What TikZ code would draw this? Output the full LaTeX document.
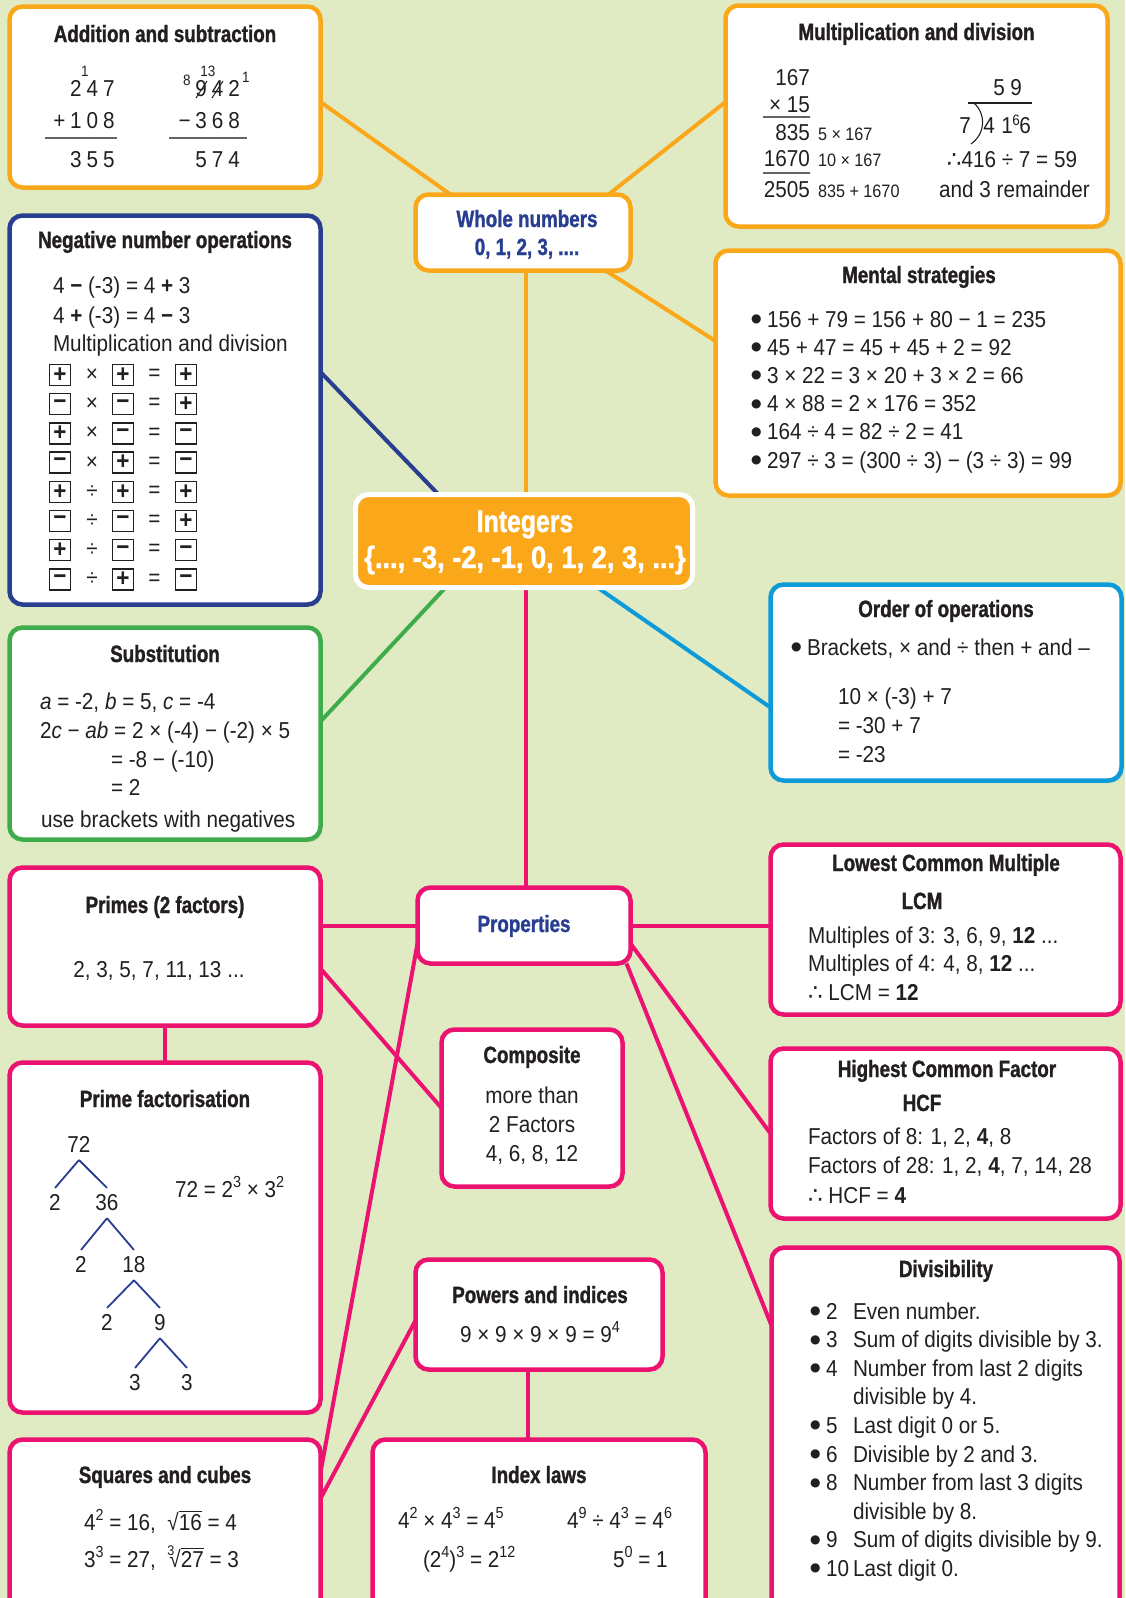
\documentclass[tikz,border=0pt]{standalone}
\usepackage{fontspec}
\usepackage{graphicx}
\setmainfont{Liberation Sans}[FakeStretch=0.9]
\newfontfamily\hfont{Liberation Sans}[FakeStretch=0.8,BoldFeatures={FakeBold=1.2}]
\newfontfamily\dvsfont{DejaVu Sans}
\usetikzlibrary{shadows,calc}
\definecolor{bgc}{RGB}{225,235,195}
\definecolor{cor}{RGB}{250,168,26}
\definecolor{cnv}{RGB}{40,62,145}
\definecolor{cgr}{RGB}{62,172,74}
\definecolor{cbl}{RGB}{12,155,216}
\definecolor{cmg}{RGB}{236,18,112}
\definecolor{txt}{RGB}{35,31,32}
\newcommand\hdf{\hfont\bfseries\fontsize{23.5}{27}\selectfont}
\newcommand\bdf{\normalfont\fontsize{23}{28.6}\selectfont}
\newcommand\smf{\normalfont\fontsize{18}{20}\selectfont}
\newcommand\spp[1]{\raisebox{0.4em}{\fontsize{16}{16}\selectfont #1}}
\newcommand\thf{{\dvsfont ∴}}
\newcommand\dg[1]{\makebox[16.5pt]{#1}}
\newcommand\vinc[1]{\vbox{\hrule height 1.1pt\kern 1.6pt\hbox{#1}}}
\newcommand\bdot{\raisebox{4.5pt}{\dvsfont\fontsize{12}{12}\selectfont ●}}
\newcommand\bul{\makebox[16pt][l]{\bdot}}
\newcommand\dvi[1]{\makebox[16pt][l]{\bdot}\makebox[27pt][l]{#1}}
\newcommand\supf{\fontsize{15}{15}\selectfont}
\pgfdeclarelayer{back}\pgfdeclarelayer{lines}\pgfsetlayers{back,lines,main}
\begin{document}
\begin{tikzpicture}[x=1pt,y=-1pt,
 every node/.style={inner sep=0pt,outer sep=0pt,text=txt,font=\bdf},
 box/.style={draw=#1,fill=white,line width=4.5pt,rounded corners=13pt,
   drop shadow={shadow xshift=2pt,shadow yshift=-2.5pt,opacity=0.22}},
 con/.style={draw=#1,line width=4pt},
 hd/.style={font=\hdf,anchor=base},
 tl/.style={anchor=base west},
 tc/.style={anchor=base},
 tr/.style={anchor=base east},
 sgn/.style={draw=txt,line width=1.3pt,minimum size=21pt,font=\normalfont\bfseries\fontsize{25}{25}\selectfont},
 tree/.style={draw=cnv,line width=1.8pt},
 rl/.style={draw=txt!70,line width=1.1pt}]
\useasboundingbox (0,0) rectangle (1125,1598);
\begin{pgfonlayer}{back}\fill[bgc] (0,0) rectangle (1125,1598);\end{pgfonlayer}
% boxes
\node[box=cor,minimum width=311pt,minimum height=181pt] (add) at (165,97) {};
\node[box=cor,minimum width=382pt,minimum height=221pt] (mul) at (916.5,116) {};
\node[box=cor,minimum width=215pt,minimum height=76pt] (wn) at (523,232.5) {};
\node[box=cnv,minimum width=311pt,minimum height=389pt] (neg) at (165,410) {};
\node[box=cor,minimum width=405pt,minimum height=245pt] (ment) at (918,373) {};
\node[box=white,fill=cor,line width=5pt,minimum width=337pt,minimum height=93pt] (int) at (524,541) {};
\node[box=cgr,minimum width=311pt,minimum height=212pt] (sub) at (165,733.5) {};
\node[box=cbl,minimum width=351pt,minimum height=196pt] (ord) at (946,682.5) {};
\node[box=cmg,minimum width=311pt,minimum height=158pt] (primes) at (165,946.5) {};
\node[box=cmg,minimum width=213pt,minimum height=76pt] (prop) at (524,925.5) {};
\node[box=cmg,minimum width=350pt,minimum height=170pt] (lcm) at (945.5,929.5) {};
\node[box=cmg,minimum width=350pt,minimum height=170pt] (hcf) at (945.5,1133.5) {};
\node[box=cmg,minimum width=311pt,minimum height=350pt] (pf) at (165,1237.5) {};
\node[box=cmg,minimum width=181pt,minimum height=157pt] (comp) at (532,1108) {};
\node[box=cmg,minimum width=247pt,minimum height=110pt] (pow) at (539,1314.5) {};
\node[box=cmg,minimum width=333pt,minimum height=178pt] (idx) at (539,1528.5) {};
\node[box=cmg,minimum width=311pt,minimum height=178pt] (sq) at (165,1528.5) {};
\node[box=cmg,minimum width=348pt,minimum height=370pt] (div) at (945.5,1432.5) {};
% connectors
\begin{pgfonlayer}{lines}
\draw[con=cor] ($(add.east)+(0,5)$) -- ($(wn.north west)+(35,0)$);
\draw[con=cor] ($(wn.north east)+(-22,0)$) -- ($(mul.west)+(0,-14)$);
\draw[con=cor] ($(wn.south east)+(-25,0)$) -- ($(ment.west)+(0,-32)$);
\draw[con=cor] ($(wn.south)+(3,0)$) -- ($(int.north)+(2,0)$);
\draw[con=cnv] ($(neg.east)+(0,-38)$) -- ($(int.north west)+(83,0)$);
\draw[con=cgr] ($(sub.east)+(0,-12)$) -- ($(int.south west)+(90,0)$);
\draw[con=cbl] ($(int.south east)+(-95,0)$) -- ($(ord.west)+(0,25)$);
\draw[con=cmg] ($(int.south)+(2,0)$) -- ($(prop.north)+(2,0)$);
\draw[con=cmg] (prop.west) -- (prop.west -| primes.east);
\draw[con=cmg] (prop.east) -- (prop.east -| lcm.west);
\draw[con=cmg] ($(primes.east)+(0,22)$) -- (comp.west);
\draw[con=cmg] (primes.south) -- (pf.north);
\draw[con=cmg] ($(prop.south west)+(0,-20)$) -- ($(sq.east)+(0,-56)$);
\draw[con=cmg] ($(pow.west)+(0,6)$) -- ($(sq.east)+(0,-30)$);
\coordinate (pi) at ($(pow.south)+(-11,0)$);
\draw[con=cmg] (pi) -- (pi |- idx.north);
\draw[con=cmg] ($(prop.south east)+(0,-20)$) -- (hcf.west);
\draw[con=cmg] ($(prop.south east)+(-4,0)$) -- ($(div.west)+(0,-107)$);
\end{pgfonlayer}
% Addition and subtraction
\node[hd] (addh) at (165,42) {Addition and subtraction};
\node[tr] (a1) at (117.25,96) {\dg{2}\dg{4}\dg{7}};
\node[tc,font=\supf] (a1s) at (85,76) {1};
\node[tr] (a2) at (117.25,128) {\dg{+}\dg{1}\dg{0}\dg{8}};
\draw[rl] (45,138) -- (117,138);
\node[tr] (a3) at (117.25,167) {\dg{3}\dg{5}\dg{5}};
\node[tr] (b1) at (242.5,96) {\dg{9}\dg{4}\dg{2}};
\node[tc,font=\supf] (b1a) at (187,85) {8};
\node[tc,font=\supf] (b1b) at (208,76) {13};
\node[tc,font=\supf] (b1c) at (246,82) {1};
\draw[draw=txt,line width=1pt] (196,98) -- (207,81) (212,98) -- (223,81);
\node[tr] (b2) at (242.5,128) {\dg{−}\dg{3}\dg{6}\dg{8}};
\draw[rl] (169,138) -- (247,138);
\node[tr] (b3) at (242.5,167) {\dg{5}\dg{7}\dg{4}};
% Multiplication and division
\node[hd] (mulh) at (916.5,40) {Multiplication and division};
\node[tr] (m1) at (810,85) {167};
\node[tr] (m2) at (810,112) {× 15};
\draw[rl] (763,117) -- (810,117);
\node[tr] (m3) at (810,140) {835};
\node[tr] (m4) at (810,166) {1670};
\draw[rl] (763,173) -- (810,173);
\node[tr] (m5) at (810,197) {2505};
\node[tl,font=\smf] (m3n) at (818,140) {5 × 167};
\node[tl,font=\smf] (m4n) at (818,166) {10 × 167};
\node[tl,font=\smf] (m5n) at (818,197) {835 + 1670};
\node[tc] (quo) at (1007.5,95) {\makebox[17pt]{5}\makebox[17pt]{9}};
\draw[draw=txt,line width=1.1pt] (968,103) -- (1032,103);
\draw[draw=txt,line width=1.1pt] (974,103) .. controls (986,114) and (986,133) .. (971,144);
\node[tc] (d7) at (965,133) {7};
\node[tc] (d4) at (989,133) {4};
\node[tc] (d1) at (1007,133) {1};
\node[tc,font=\supf] (d6s) at (1016,125) {6};
\node[tc] (d6) at (1025,133) {6};
\node[tc] (r1) at (1012,167) {\thf416 ÷ 7 = 59};
\node[tc] (r2) at (1014.5,197) {and 3 remainder};
% Whole numbers
\node[hd,text=cnv] (wn1) at (527,227) {Whole numbers};
\node[hd,text=cnv] (wn2) at (527,255) {0, 1, 2, 3, ....};
% Negative number operations
\node[hd] (negh) at (165,248) {Negative number operations};
\node[tl] (n1) at (53,293) {4 \textbf{−} (-3) = 4 \textbf{+} 3};
\node[tl] (n2) at (53,323) {4 \textbf{+} (-3) = 4 \textbf{−} 3};
\node[tl] (n3) at (53,351) {Multiplication and division};
\foreach \a/\o/\b/\c [count=\i from 0] in {+/×/+/+,−/×/−/+,+/×/−/−,−/×/+/−,+/÷/+/+,−/÷/−/+,+/÷/−/−,−/÷/+/−}{
 \node[sgn] (sa\i) at (60,375+29.2*\i) {\a};
 \node (so\i) at (92,375+29.2*\i) {\o};
 \node[sgn] (sb\i) at (123,375+29.2*\i) {\b};
 \node (se\i) at (154.5,375+29.2*\i) {=};
 \node[sgn] (sc\i) at (186,375+29.2*\i) {\c};
}
% Mental strategies
\node[hd] (menth) at (919,283) {Mental strategies};
\node[tl,font=\normalfont\fontsize{23}{28.2}\selectfont] (mt) at (751,327) {\begin{tabular}[t]{@{}l@{}}
\bul 156 + 79 = 156 + 80 − 1 = 235\\
\bul 45 + 47 = 45 + 45 + 2 = 92\\
\bul 3 × 22 = 3 × 20 + 3 × 2 = 66\\
\bul 4 × 88 = 2 × 176 = 352\\
\bul 164 ÷ 4 = 82 ÷ 2 = 41\\
\bul 297 ÷ 3 = (300 ÷ 3) − (3 ÷ 3) = 99
\end{tabular}};
% Integers
\node[tc,font=\hfont\bfseries\fontsize{31}{34}\selectfont,text=white] (int1) at (525,532) {Integers};
\node[tc,font=\hfont\bfseries\fontsize{31}{34}\selectfont,text=white] (int2) at (525,568) {\scalebox{1.1}[1]{\{..., -3, -2, -1, 0, 1, 2, 3, ...\}}};
% Substitution
\node[hd] (subh) at (165,662) {Substitution};
\node[tl] (s1) at (40,709) {\textit{a} = -2, \textit{b} = 5, \textit{c} = -4};
\node[tl] (s2) at (40,738) {2\textit{c} − \textit{ab} = 2 × (-4) − (-2) × 5};
\node[tl] (s3) at (111,767) {= -8 − (-10)};
\node[tl] (s4) at (111,795) {= 2};
\node[tl] (s5) at (41,827) {use brackets with negatives};
% Order of operations
\node[hd] (ordh) at (946,617) {Order of operations};
\node[tl] (o1) at (791,655) {\bul Brackets, × and ÷ then + and –};
\node[tl] (o2) at (838,704) {10 × (-3) + 7};
\node[tl] (o3) at (838,733) {= -30 + 7};
\node[tl] (o4) at (838,762) {= -23};
% Primes
\node[hd] (prh) at (165,913) {Primes (2 factors)};
\node[tc] (pr1) at (159,977) {2, 3, 5, 7, 11, 13 ...};
% Properties
\node[hd,text=cnv] (proph) at (524,932) {Properties};
% LCM
\node[hd] (lcmh) at (946,871) {Lowest Common Multiple};
\node[hd] (lcmh2) at (922,909) {LCM};
\node[tl] (lcmt) at (808,943) {\begin{tabular}[t]{@{}l@{}}Multiples of 3: 3, 6, 9, \textbf{12} ...\\Multiples of 4: 4, 8, \textbf{12} ...\\\thf\ LCM = \textbf{12}\end{tabular}};
% HCF
\node[hd] (hcfh) at (947,1077) {Highest Common Factor};
\node[hd] (hcfh2) at (922,1111) {HCF};
\node[tl,font=\normalfont\fontsize{23}{29.5}\selectfont] (hcft) at (808,1144) {\begin{tabular}[t]{@{}l@{}}Factors of 8: 1, 2, \textbf{4}, 8\\Factors of 28: 1, 2, \textbf{4}, 7, 14, 28\\\thf\ HCF = \textbf{4}\end{tabular}};
% Prime factorisation
\node[hd] (pfh) at (165,1107) {Prime factorisation};
\node[tc] (t72) at (79,1152) {72};
\node[tc] (t2a) at (55,1210) {2};
\node[tc] (t36) at (107,1210) {36};
\node[tc] (t2b) at (81,1272) {2};
\node[tc] (t18) at (134,1272) {18};
\node[tc] (t2c) at (107,1330) {2};
\node[tc] (t9) at (160,1330) {9};
\node[tc] (t3a) at (135,1390) {3};
\node[tc] (t3b) at (187,1390) {3};
\foreach \p/\c in {t72/t2a,t72/t36,t36/t2b,t36/t18,t18/t2c,t18/t9,t9/t3a,t9/t3b}
  \draw[tree] ($(\p.south)+(0,8)$) -- ($(\c.north)+(0,-6)$);
\node[tl] (pfe) at (175,1197) {72 = 2\spp{3} × 3\spp{2}};
% Composite
\node[hd] (comph) at (532,1063) {Composite};
\node[tc,font=\normalfont\fontsize{23}{29}\selectfont] (compt) at (532,1103) {\begin{tabular}[t]{@{}c@{}}more than\\2 Factors\\4, 6, 8, 12\end{tabular}};
% Powers and indices
\node[hd] (powh) at (540,1303) {Powers and indices};
\node[tc] (powt) at (540,1342) {9 × 9 × 9 × 9 = 9\spp{4}};
% Index laws
\node[hd] (idxh) at (539,1483) {Index laws};
\node[tl] (i1) at (398,1528) {4\spp{2} × 4\spp{3} = 4\spp{5}};
\node[tl] (i2) at (567,1528) {4\spp{9} ÷ 4\spp{3} = 4\spp{6}};
\node[tl] (i3) at (423,1567) {(2\spp{4})\spp{3} = 2\spp{12}};
\node[tl] (i4) at (613,1567) {5\spp{0} = 1};
% Squares and cubes
\node[hd] (sqh) at (165,1483) {Squares and cubes};
\node[tl] (q1) at (84,1530) {4\spp{2} = 16,\ \ \smash{√}\smash{\vinc{16}} = 4};
\node[tl] (q2) at (84,1567) {3\spp{3} = 27,\ \ \smash{\raisebox{0.5em}{\fontsize{14}{14}\selectfont 3}}\kern-5pt\smash{√}\smash{\vinc{27}} = 3};
% Divisibility
\node[hd] (divh) at (946,1277) {Divisibility};
\node[tl] (divt) at (810,1319) {\begin{tabular}[t]{@{}l@{}}
\dvi{2}Even number.\\
\dvi{3}Sum of digits divisible by 3.\\
\dvi{4}Number from last 2 digits\\
\hspace*{43pt}divisible by 4.\\
\dvi{5}Last digit 0 or 5.\\
\dvi{6}Divisible by 2 and 3.\\
\dvi{8}Number from last 3 digits\\
\hspace*{43pt}divisible by 8.\\
\dvi{9}Sum of digits divisible by 9.\\
\dvi{10}Last digit 0.
\end{tabular}};
\end{tikzpicture}
\end{document}
